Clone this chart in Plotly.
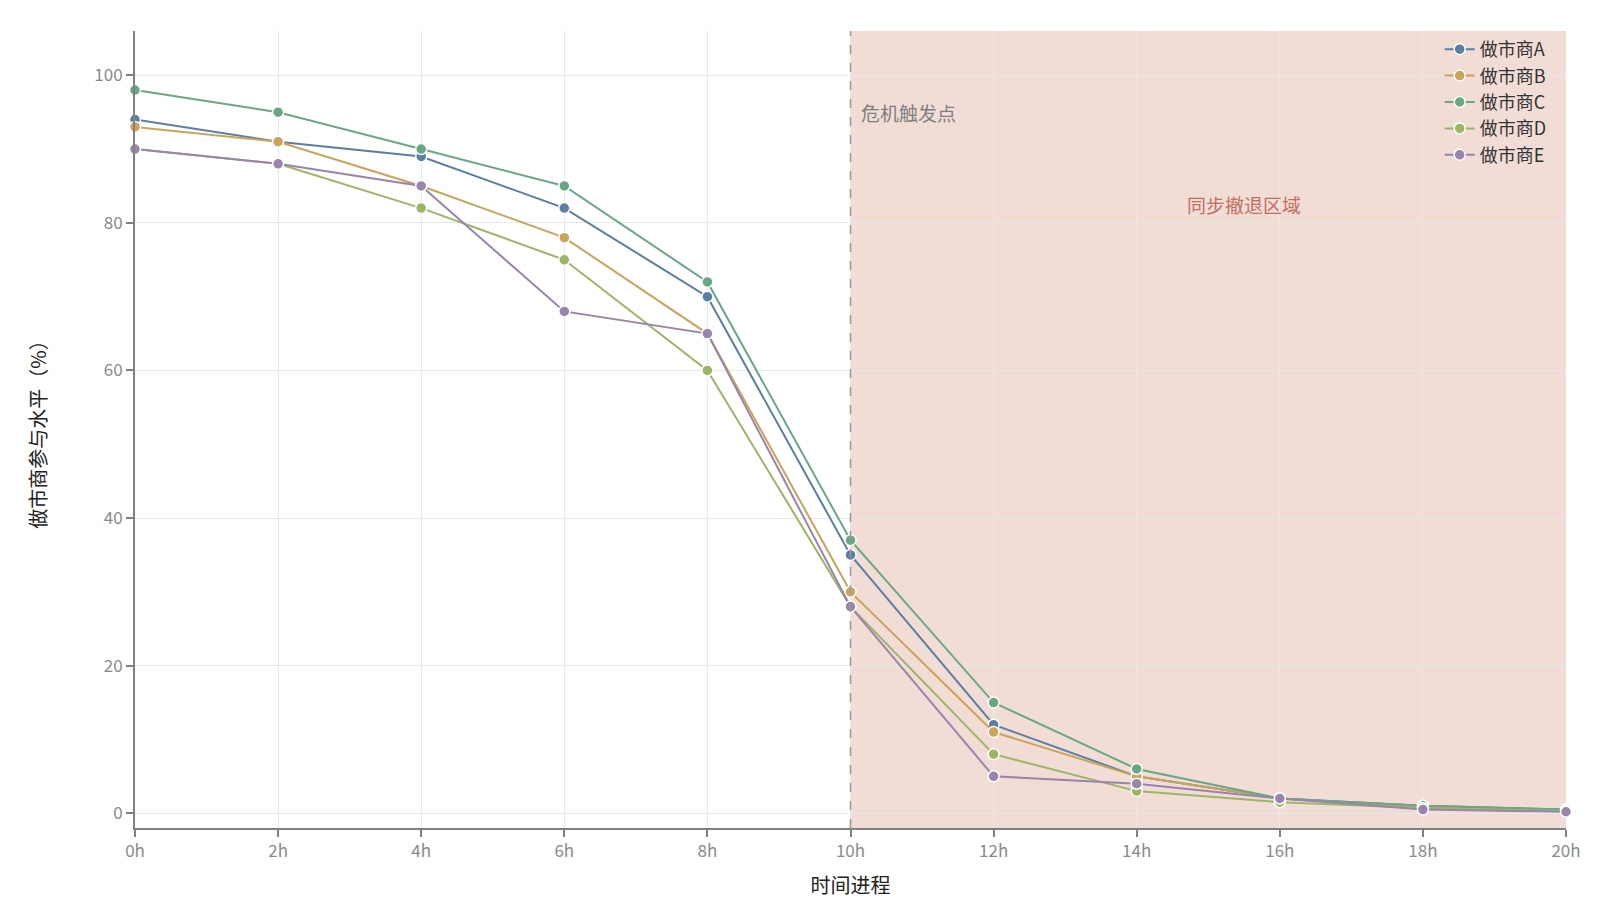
import plotly.graph_objects as go

hours = [0, 2, 4, 6, 8, 10, 12, 14, 16, 18, 20]
tick_text = [f"{h}h" for h in hours]

mm_a = [94, 91, 89, 82, 70, 35, 12, 5, 2, 1, 0.5]
mm_b = [93, 91, 85, 78, 65, 30, 11, 5, 2, 0.8, 0.3]
mm_c = [98, 95, 90, 85, 72, 37, 15, 6, 2, 1, 0.5]
mm_d = [90, 88, 82, 75, 60, 28, 8, 3, 1.5, 0.7, 0.3]
mm_e = [90, 88, 85, 68, 65, 28, 5, 4, 2, 0.5, 0.2]

names = ["做市商A", "做市商B", "做市商C", "做市商D", "做市商E"]
colors = ["#5b7ea3", "#c9a459", "#6aa785", "#9cb566", "#9a84ac"]

font_family = "Noto Sans CJK SC"

fig = go.Figure()

for name, vals, c in zip(names, [mm_a, mm_b, mm_c, mm_d, mm_e], colors):
    fig.add_trace(go.Scatter(
        x=hours,
        y=vals,
        name=name,
        mode="lines+markers",
        line=dict(color=c, width=2),
        marker=dict(size=11, color=c, line=dict(color="white", width=1.5)),
        cliponaxis=False,
    ))

# crisis zone
fig.add_vrect(x0=10, x1=20, fillcolor="#f2ddd6", opacity=1, line_width=0, layer="below")
fig.add_vline(x=10, line=dict(color="#999999", width=1.5, dash="dash"))

fig.add_annotation(x=10.12, y=95, text="危机触发点", showarrow=False, xanchor="left",
                   font=dict(size=19, color="#7f7f7f", family=font_family))
fig.add_annotation(x=15.5, y=82.5, text="同步撤退区域", showarrow=False,
                   font=dict(size=19, color="#c0705e", family=font_family))

fig.update_layout(
    width=1600,
    height=920,
    plot_bgcolor="white",
    paper_bgcolor="white",
    font=dict(family=font_family, size=17, color="#333333"),
    margin=dict(l=127, r=42, t=23, b=100),
    legend=dict(
        x=0.99, y=1.0, xanchor="right", yanchor="top",
        bgcolor="rgba(0,0,0,0)",
        font=dict(size=18, color="#333333"),
        itemwidth=30,
        tracegroupgap=0,
    ),
    showlegend=True,
)

fig.update_xaxes(
    range=[0, 20],
    tickvals=hours,
    ticktext=tick_text,
    title=dict(text="时间进程", font=dict(size=20, color="#222222"), standoff=18),
    showgrid=True,
    gridcolor="#e8e8e8",
    gridwidth=1,
    showline=True,
    linecolor="#808080",
    linewidth=2,
    ticks="outside",
    tickcolor="#808080",
    tickwidth=2,
    ticklen=7,
    tickfont=dict(size=17, color="#8a8a8a"),
    zeroline=False,
)

fig.update_yaxes(
    range=[-2, 106],
    tickvals=[0, 20, 40, 60, 80, 100],
    title=dict(text="做市商参与水平（%）", font=dict(size=20, color="#222222"), standoff=42),
    showgrid=True,
    gridcolor="#e8e8e8",
    gridwidth=1,
    showline=True,
    linecolor="#808080",
    linewidth=2,
    ticks="outside",
    tickcolor="#808080",
    tickwidth=2,
    ticklen=7,
    tickfont=dict(size=17, color="#8a8a8a"),
    zeroline=False,
)

fig.write_html("out.html")
